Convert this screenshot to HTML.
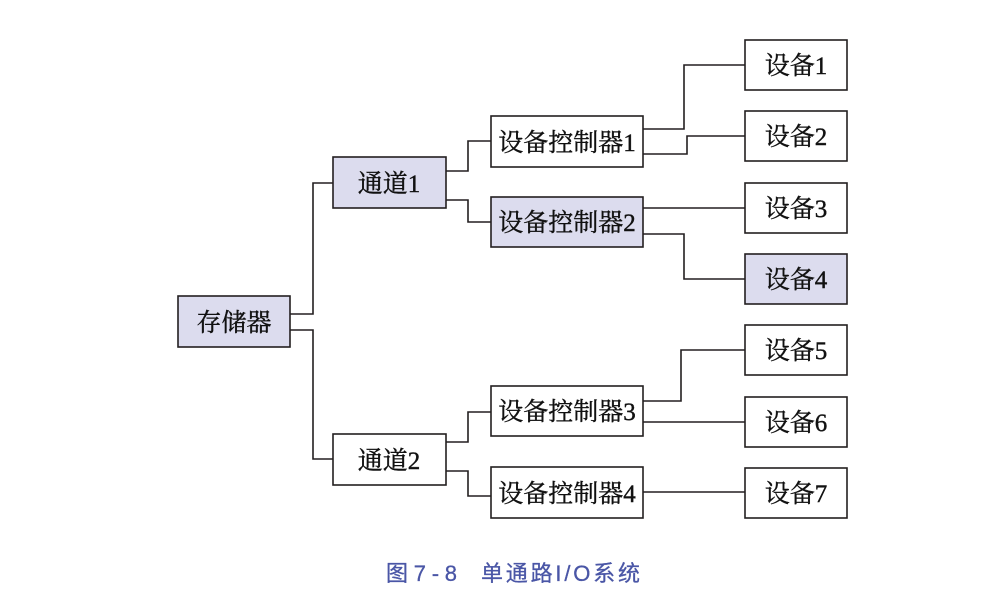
<!DOCTYPE html>
<html><head><meta charset="utf-8"><style>
body{margin:0;background:#fff;width:984px;height:596px;overflow:hidden}
</style></head><body>
<svg width="984" height="596" xmlns="http://www.w3.org/2000/svg" font-family="Liberation Serif, Noto Serif CJK SC, serif" font-size="25" fill="#111" stroke="#111" stroke-width="0.4">
<g stroke="#231f20" stroke-width="1.6" fill="none">
<polyline points="290,314 313,314 313,183 333,183"/>
<polyline points="290,330 313,330 313,459 333,459"/>
<polyline points="446,171 468,171 468,141 491,141"/>
<polyline points="446,200 468,200 468,222 491,222"/>
<polyline points="643,129 684,129 684,65 745,65"/>
<polyline points="643,154 687,154 687,136 745,136"/>
<polyline points="643,208 745,208"/>
<polyline points="643,234 684,234 684,279 745,279"/>
<polyline points="643,401 681,401 681,350 745,350"/>
<polyline points="643,422 745,422"/>
<polyline points="446,442 468,442 468,412 491,412"/>
<polyline points="446,471 468,471 468,496 491,496"/>
<polyline points="643,492 745,492"/>
</g>
<g stroke="#231f20" stroke-width="1.6">
<rect x="178" y="296" width="112" height="51" fill="#dcdcee"/>
<rect x="333" y="157" width="113" height="51" fill="#dcdcee"/>
<rect x="333" y="434" width="113" height="51" fill="#fff"/>
<rect x="491" y="116" width="152" height="51" fill="#fff"/>
<rect x="491" y="197" width="152" height="50" fill="#dcdcee"/>
<rect x="491" y="386" width="152" height="50" fill="#fff"/>
<rect x="491" y="467" width="152" height="51" fill="#fff"/>
<rect x="745" y="40" width="102" height="50" fill="#fff"/>
<rect x="745" y="111" width="102" height="50" fill="#fff"/>
<rect x="745" y="183" width="102" height="50" fill="#fff"/>
<rect x="745" y="254" width="102" height="50" fill="#dcdcee"/>
<rect x="745" y="325" width="102" height="50" fill="#fff"/>
<rect x="745" y="397" width="102" height="50" fill="#fff"/>
<rect x="745" y="468" width="102" height="50" fill="#fff"/>
</g>
<g text-anchor="middle">
<text x="234" y="331">存储器</text>
<text x="389" y="192">通道1</text>
<text x="389" y="469">通道2</text>
<text x="567" y="151">设备控制器1</text>
<text x="567" y="231">设备控制器2</text>
<text x="567" y="420">设备控制器3</text>
<text x="567" y="502">设备控制器4</text>
<text x="796" y="74">设备1</text>
<text x="796" y="145">设备2</text>
<text x="796" y="217">设备3</text>
<text x="796" y="288">设备4</text>
<text x="796" y="359">设备5</text>
<text x="796" y="431">设备6</text>
<text x="796" y="502">设备7</text>
</g>
<g font-family="Liberation Sans, Noto Sans CJK SC, sans-serif" font-size="22" fill="#4a56a6" stroke="#4a56a6" stroke-width="0.3">
<text x="386" y="581" textLength="71" lengthAdjust="spacing">图7-8</text>
<text x="481" y="581" textLength="159" lengthAdjust="spacing">单通路I/O系统</text>
</g>
</svg>
</body></html>
